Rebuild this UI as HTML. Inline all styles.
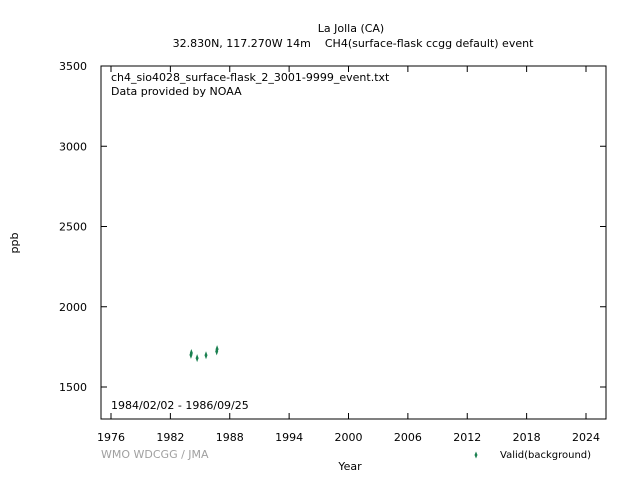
<!DOCTYPE html>
<html><head><meta charset="utf-8"><style>
body{margin:0;background:#fff;font-family:"DejaVu Sans",sans-serif;}
svg text{font-family:"DejaVu Sans",sans-serif;font-size:11px;fill:#000}
</style></head><body>
<svg width="640" height="480">
<text x="351" y="32" text-anchor="middle">La Jolla (CA)</text>
<text x="353" y="47" text-anchor="middle" xml:space="preserve" style="white-space:pre">32.830N, 117.270W 14m    CH4(surface-flask ccgg default) event</text>
<rect x="101" y="66" width="505" height="353" fill="none" stroke="#000"/>
<g id="axes"></g>
<g id="marks"></g>
<text x="111" y="81">ch4_sio4028_surface-flask_2_3001-9999_event.txt</text>
<text x="111" y="95">Data provided by NOAA</text>
<text x="111" y="409">1984/02/02 - 1986/09/25</text>
<text x="18" y="243" text-anchor="middle" transform="rotate(-90 18 243)">ppb</text>
<text x="350" y="470" text-anchor="middle">Year</text>
<text x="101" y="458" style="fill:#a0a0a0">WMO WDCGG / JMA</text>
<path d="M476 451.5 L477.5 455 L476 458.5 L474.5 455Z" fill="#1a8050"/>
<text x="500" y="458" style="font-size:10px">Valid(background)</text>
</svg>
<script>
const xTicks=[1976,1982,1988,1994,2000,2006,2012,2018,2024];
const yTicks=[1500,2000,2500,3000,3500];
const years=[1984.08,1984.12,1984.7,1985.6,1986.68,1986.72];
const values=[1700,1712,1680,1698,1722,1736];
const X=v=>111+(v-1976)*(475/48);
const Y=v=>387-(v-1500)*(80.25/500);
const ns="http://www.w3.org/2000/svg";
const ax=document.getElementById('axes'),mk=document.getElementById('marks');
function mkEl(t,a){const e=document.createElementNS(ns,t);for(const k in a)e.setAttribute(k,a[k]);return e;}
xTicks.forEach(t=>{const x=X(t);
const l=mkEl('path',{d:`M${x} 419V413M${x} 66V72`,stroke:'#000'});

ax.appendChild(l);
const tx=mkEl('text',{x:x,y:441,'text-anchor':'middle'});tx.textContent=t;

ax.appendChild(tx);});
yTicks.forEach(t=>{const y=Y(t);
const l=mkEl('path',{d:`M101 ${y}H107M606 ${y}H600`,stroke:'#000'});

ax.appendChild(l);
const tx=mkEl('text',{x:87,y:y+4,'text-anchor':'end'});tx.textContent=t;

ax.appendChild(tx);});
years.forEach((yr,i)=>{const x=X(yr),y=Y(values[i]);
const p=mkEl('path',{d:`M${x} ${y-4}L${x+1.5} ${y}L${x} ${y+4}L${x-1.5} ${y}Z`,fill:'#1a8050'});

mk.appendChild(p);});
</script>
</body></html>
